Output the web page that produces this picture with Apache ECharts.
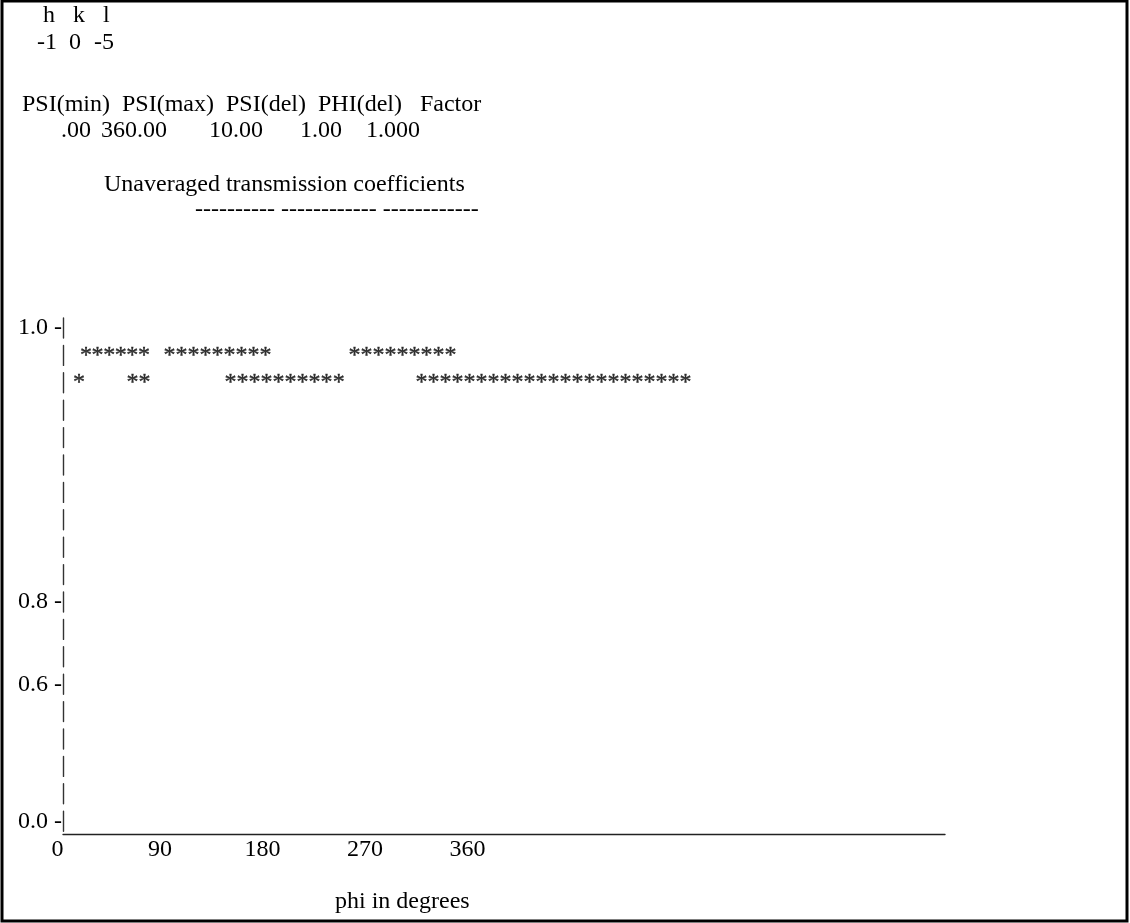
<!DOCTYPE html>
<html>
<head>
<meta charset="utf-8">
<script src="https://cdn.jsdelivr.net/npm/echarts@6/dist/echarts.min.js"></script>
<style>
html,body{margin:0;padding:0;background:#fff;}
#chart{width:1130px;height:923px;}
</style>
</head>
<body>
<div id="chart"></div>
<script>
// ---- data ----
const yLevels = [0, 5, 8, 18];               // text-row level of each y tick (0 = baseline row)
const yTickLabels = ['0.0', '0.6', '0.8', '1.0'];
const xTicks = [0, 90, 180, 270, 360];
const xTickLabels = ['0', '90', '180', '270', '360'];
const upperLevel = 17;                        // first row of stars under 1.0
const lowerLevel = 16;                        // second row of stars
const upperPhi = [20.2, 30.4, 40.6, 50.8, 60.9, 71.1,
  93.5, 104.0, 114.6, 125.1, 135.7, 146.2, 156.8, 167.3, 177.8,
  255.9, 266.5, 277.0, 287.5, 298.1, 308.6, 319.2, 329.7, 340.2];
const lowerPhi = [14.0, 61.0, 71.6,
  147.1, 157.6, 168.2, 178.7, 189.3, 199.8, 210.3, 220.9, 231.4, 242.0,
  314.7, 325.3, 335.8, 346.3, 356.9, 367.4, 378.0, 388.5, 399.0, 409.6, 420.1,
  430.6, 441.1, 451.7, 462.2, 472.8, 483.3, 493.8, 504.4, 514.9, 525.4, 536.0, 546.5];
const headerHKL = ['h', 'k', 'l'];
const valuesHKL = ['-1', '0', '-5'];
const paramNames = 'PSI(min)  PSI(max)  PSI(del)  PHI(del)   Factor';
const paramValues = ['.00', '360.00', '10.00', '1.00', '1.000'];
const subTitle = 'Unaveraged transmission coefficients';
const subRule = '---------- ------------ ------------';
const xName = 'phi in degrees';

// ---- rendering ----
const FONT_FAMILY = '"Liberation Serif", "Times New Roman", serif';
const FONT = '24px ' + FONT_FAMILY;
const chart = echarts.init(document.getElementById('chart'), null, {renderer: 'canvas'});

function txt(text, x, y) {
  return {type: 'text', silent: true,
    style: {text: text, x: x, y: y, font: FONT, fill: '#000', textVerticalAlign: 'middle'}};
}
const hklX = [43, 73, 103];
const valHKLX = [37, 69, 94];
const paramValX = [61, 101, 209, 300, 366];
const graphics = [
  {type: 'rect', silent: true, shape: {x: 2, y: 1, width: 1125, height: 920},
    style: {fill: 'none', stroke: '#000', lineWidth: 3}}
];
headerHKL.forEach((t, i) => graphics.push(txt(t, hklX[i], 16)));
valuesHKL.forEach((t, i) => graphics.push(txt(t, valHKLX[i], 43)));
graphics.push(txt(paramNames, 22, 105));
paramValues.forEach((t, i) => graphics.push(txt(t, paramValX[i], 131)));
graphics.push(txt(subTitle, 104, 185));
graphics.push(txt(subRule, 195, 210));
graphics.push(txt(xName, 335, 902));

function starSeries(phis, level) {
  return {
    type: 'scatter', silent: true, symbol: 'circle', symbolSize: 2,
    itemStyle: {color: 'rgba(255,255,255,0)'},
    label: {show: true, position: 'inside', formatter: '*', color: '#000',
      textBorderColor: '#000', textBorderWidth: 0.4,
      fontSize: 24, fontFamily: FONT_FAMILY},
    labelLayout: {hideOverlap: false},
    data: phis.map(p => [p, level])
  };
}

chart.setOption({
  animation: false,
  backgroundColor: '#fff',
  grid: {left: 63, right: 185, top: 318, bottom: 89, containLabel: false},
  xAxis: {
    type: 'value', min: 0, max: 774.4,
    axisLine: {show: true, onZero: false, lineStyle: {color: '#222', width: 1.4}},
    axisTick: {show: false},
    splitLine: {show: false},
    axisLabel: {
      customValues: xTicks, margin: 4, color: '#000', fontSize: 24, fontFamily: FONT_FAMILY,
      padding: [0, 11, 0, 0],
      formatter: v => { const i = xTicks.indexOf(v); return i >= 0 ? xTickLabels[i] : ''; }
    }
  },
  yAxis: {
    type: 'value', min: -0.467, max: 18.365,
    axisLine: {show: true, lineStyle: {color: '#333', width: 1.4, type: [20, 7.4], dashOffset: 24.6}},
    axisTick: {show: false},
    splitLine: {show: false},
    axisLabel: {
      customValues: yLevels, margin: 1, color: '#000', fontSize: 24, fontFamily: FONT_FAMILY,
      formatter: v => { const i = yLevels.indexOf(v); return i >= 0 ? yTickLabels[i] + ' -' : ''; }
    }
  },
  series: [starSeries(upperPhi, upperLevel), starSeries(lowerPhi, lowerLevel)],
  graphic: graphics
});
</script>
</body>
</html>
